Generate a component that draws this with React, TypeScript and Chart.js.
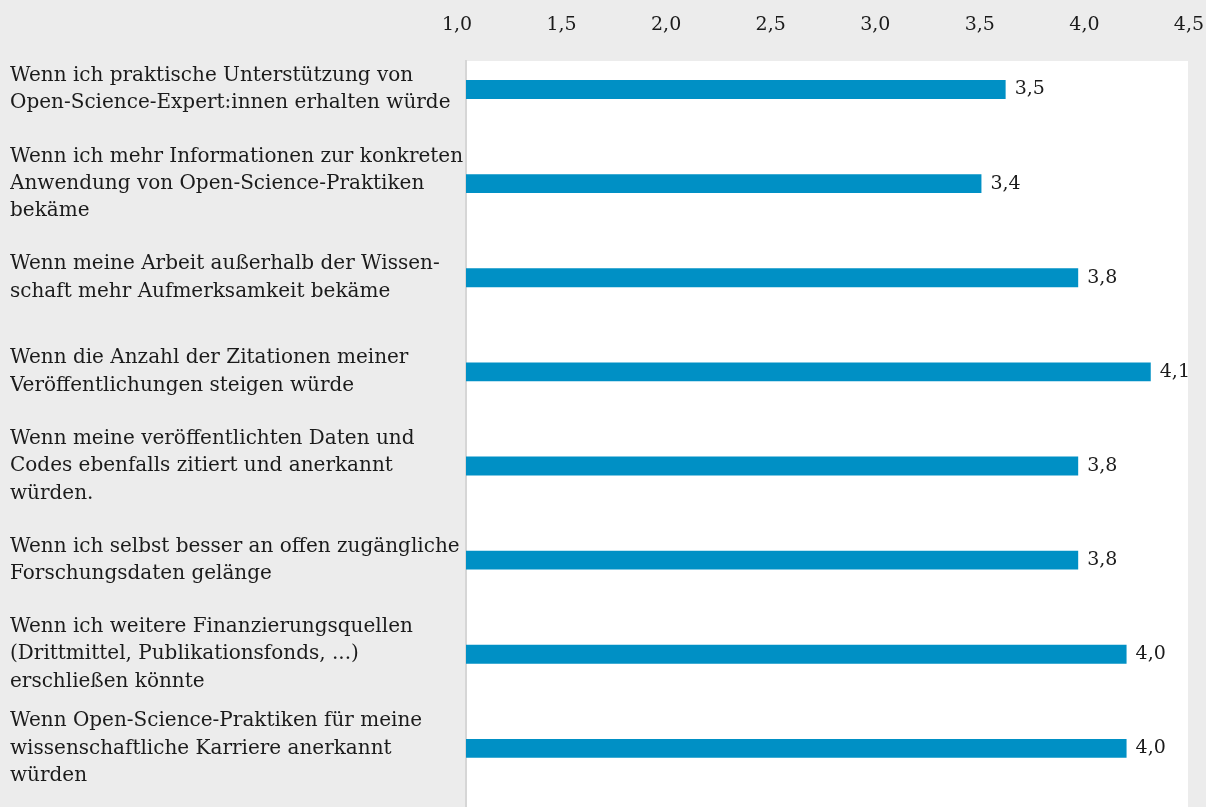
import React, { useEffect, useRef } from 'react';
import { Chart, registerables } from 'chart.js';

Chart.register(...registerables);

const categories: string[][] = [
  ['Wenn ich praktische Unterstützung von', 'Open-Science-Expert:innen erhalten würde'],
  ['Wenn ich mehr Informationen zur konkreten', 'Anwendung von Open-Science-Praktiken', 'bekäme'],
  ['Wenn meine Arbeit außerhalb der Wissen-', 'schaft mehr Aufmerksamkeit bekäme'],
  ['Wenn die Anzahl der Zitationen meiner', 'Veröffentlichungen steigen würde'],
  ['Wenn meine veröffentlichten Daten und', 'Codes ebenfalls zitiert und anerkannt', 'würden.'],
  ['Wenn ich selbst besser an offen zugängliche', 'Forschungsdaten gelänge'],
  ['Wenn ich weitere Finanzierungsquellen', '(Drittmittel, Publikationsfonds, ...)', 'erschließen könnte'],
  ['Wenn Open-Science-Praktiken für meine', 'wissenschaftliche Karriere anerkannt', 'würden'],
];

const values: number[] = [3.5, 3.4, 3.8, 4.1, 3.8, 3.8, 4.0, 4.0];

const tickValues: number[] = [1.0, 1.5, 2.0, 2.5, 3.0, 3.5, 4.0, 4.5];

const FONT = "'DejaVu Serif', 'Liberation Serif', serif";
const TEXT = '#1b1b1b';
const BAR = '#0090c5';
const fmt = (v: number) => v.toFixed(1).replace('.', ',');

const zeroPadding = (s: any) => {
  s.paddingLeft = 0;
  s.paddingRight = 0;
  s.paddingTop = 0;
  s.paddingBottom = 0;
};

const bgPlugin = {
  id: 'bgPlugin',
  beforeDraw(chart: any) {
    const { ctx, chartArea: a } = chart;
    ctx.save();
    ctx.fillStyle = '#ececec';
    ctx.fillRect(0, 0, chart.width, chart.height);
    ctx.fillStyle = '#ffffff';
    ctx.fillRect(a.left, a.top, a.right - a.left, a.bottom - a.top);
    ctx.restore();
  },
};

const valueLabels = {
  id: 'valueLabels',
  afterDatasetsDraw(chart: any) {
    const { ctx } = chart;
    const meta = chart.getDatasetMeta(0);
    ctx.save();
    ctx.font = `19px ${FONT}`;
    ctx.fillStyle = TEXT;
    ctx.textAlign = 'left';
    ctx.textBaseline = 'middle';
    meta.data.forEach((bar: any, i: number) => {
      ctx.fillText(fmt(values[i]), bar.x + 9, bar.y);
    });
    ctx.restore();
  },
};

export default function App() {
  const ref = useRef<HTMLCanvasElement | null>(null);

  useEffect(() => {
    if (!ref.current) return;
    const chart = new Chart(ref.current, {
      type: 'bar',
      data: {
        datasets: [
          {
            data: values.map((v, i) => ({ x: v, y: i })),
            backgroundColor: BAR,
            borderWidth: 0,
            categoryPercentage: 1,
            barPercentage: 0.2,
          },
        ],
      },
      options: {
        animation: false,
        responsive: false,
        maintainAspectRatio: false,
        devicePixelRatio: 1,
        indexAxis: 'y',
        layout: { padding: { left: 10, right: 18, top: 0, bottom: 0 } },
        plugins: {
          legend: { display: false },
          tooltip: { enabled: false },
        },
        scales: {
          x: {
            type: 'linear',
            position: 'bottom',
            display: false,
            offset: false,
            min: 1.269,
            max: 4.254,
          },
          x2: {
            type: 'linear',
            position: 'top',
            offset: false,
            min: 1.043,
            max: 4.4953,
            bounds: 'data',
            grid: { display: false, drawTicks: false },
            border: { display: false },
            afterBuildTicks: (s: any) => {
              s.ticks = tickValues.map((v) => ({ value: v }));
            },
            afterFit: (s: any) => {
              s.height = 61;
              zeroPadding(s);
            },
            ticks: {
              autoSkip: false,
              maxRotation: 0,
              padding: 25,
              color: TEXT,
              font: { family: FONT, size: 19 },
              callback: (v: any) => fmt(Number(v)),
            },
          },
          y: {
            type: 'linear',
            reverse: true,
            offset: false,
            min: -0.3028,
            max: 7.6225,
            bounds: 'data',
            grid: { display: false, drawTicks: false, offset: false },
            border: { display: true, color: '#d6d6d6', width: 2 },
            afterBuildTicks: (s: any) => {
              s.ticks = categories.map((_, i) => ({ value: i }));
            },
            afterFit: (s: any) => {
              s.width = 456;
              zeroPadding(s);
            },
            ticks: {
              autoSkip: false,
              crossAlign: 'far',
              color: TEXT,
              font: { family: FONT, size: 20, lineHeight: 1.365 },
              callback: (v: any) => categories[Number(v)],
            },
          },
        },
      },
      plugins: [bgPlugin, valueLabels],
    } as any);
    return () => chart.destroy();
  }, []);

  return (
    <div
      style={{
        position: 'fixed',
        left: 0,
        top: 0,
        width: 1206,
        height: 807,
        background: '#ececec',
      }}
    >
      <canvas ref={ref} width={1206} height={807} style={{ display: 'block' }} />
    </div>
  );
}
